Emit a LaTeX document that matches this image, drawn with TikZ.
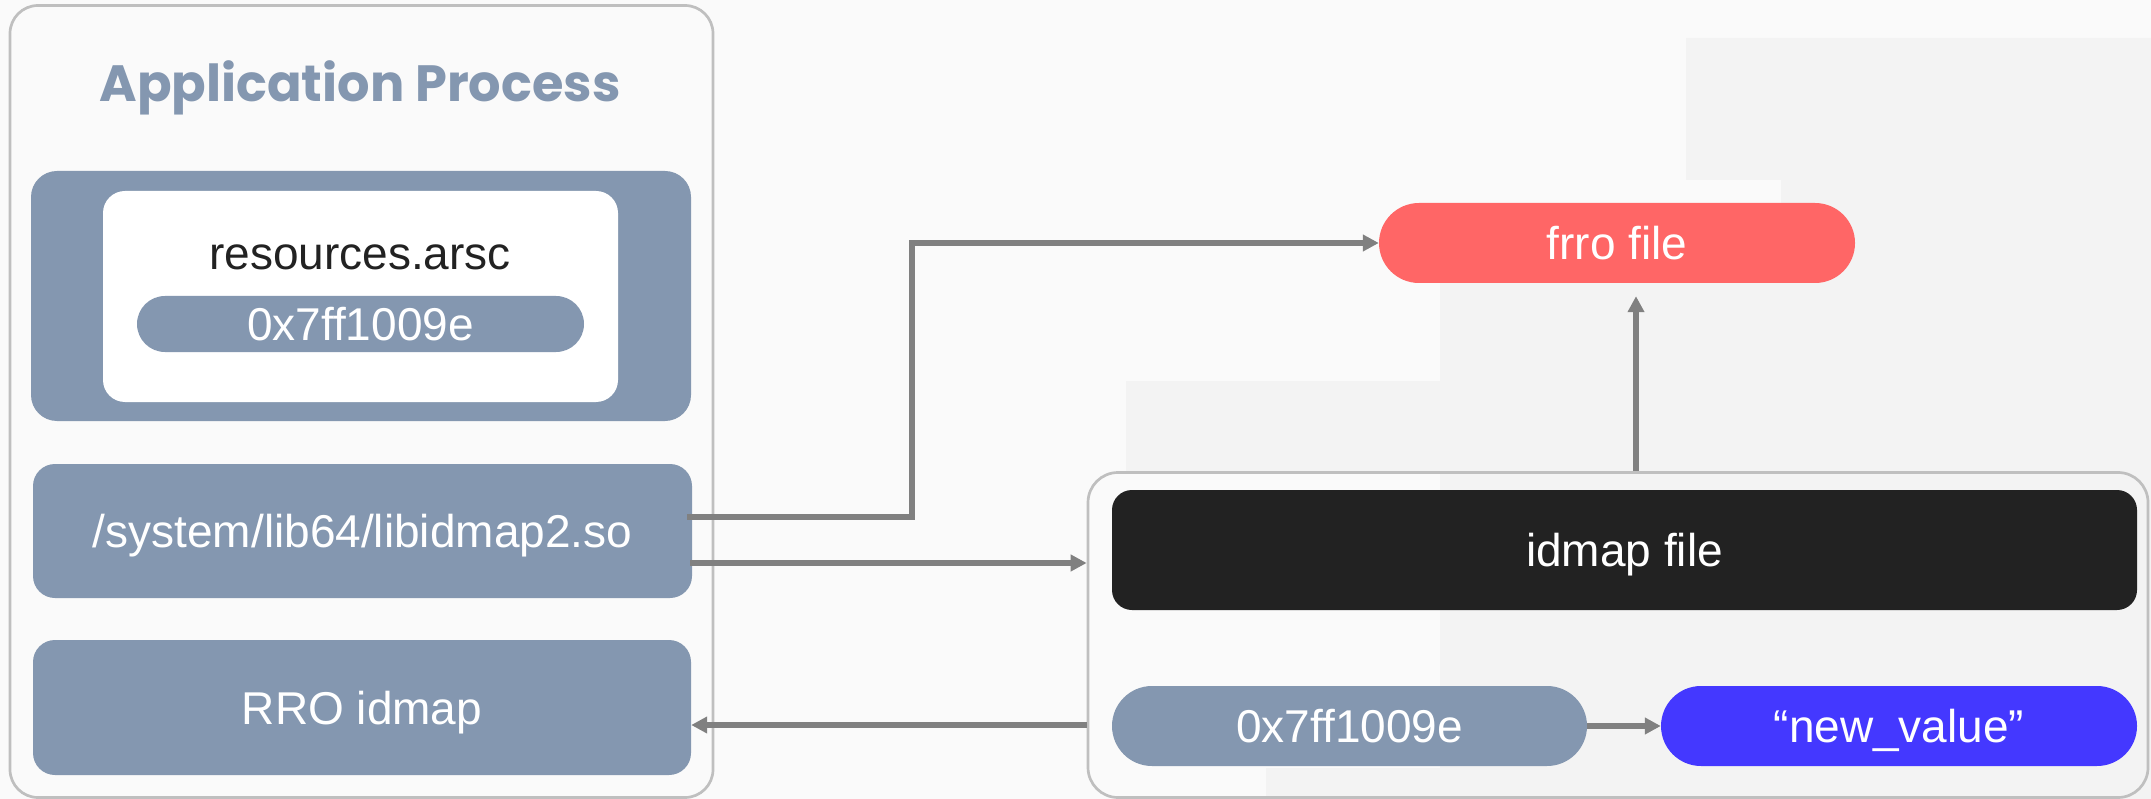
\documentclass[tikz,border=0pt]{standalone}
\usepackage{fontspec}
\setmainfont{Liberation Sans}
\newfontfamily\titlefont{Poppins}
\usetikzlibrary{arrows.meta,calc}
\definecolor{bgc}{HTML}{FAFAFA}
\definecolor{bgg}{HTML}{F3F3F3}
\definecolor{slate}{HTML}{8497B0}
\definecolor{bord}{HTML}{BFBFBF}
\definecolor{arrc}{HTML}{808080}
\definecolor{redc}{HTML}{FF6666}
\definecolor{bluec}{HTML}{4438FF}
\definecolor{darkc}{HTML}{222222}
\tikzset{
  frame/.style={draw=bord, line width=2.7pt, rounded corners=28pt, inner sep=0pt},
  blk/.style={rounded corners=22pt, inner sep=0pt, text=white,
    font=\fontsize{46}{50}\selectfont, text height=33pt, text depth=0pt},
  pill/.style={blk, rounded corners=40pt},
  arr/.style={draw=arrc, line width=5.5pt, -{Triangle[length=16pt,width=16pt]}},
}
\begin{document}
\begin{tikzpicture}[x=1pt,y=-1pt]
\useasboundingbox (0,0) rectangle (2151,799);
\fill[bgc] (0,0) rectangle (2151,799);
\fill[bgg] (1686,38) -- (2151,38) -- (2151,799) -- (1266,799) -- (1266,768) -- (1440,768)
  -- (1440,473) -- (1126,473) -- (1126,381) -- (1440,381) -- (1440,250) -- (1781,250)
  -- (1781,180) -- (1686,180) -- cycle;
% left
\node[frame, minimum width=703pt, minimum height=792pt] (outerL) at (361.5,401.5) {};
\node[anchor=base, text=slate, font=\titlefont\bfseries\fontsize{51}{55}\selectfont] (title) at (360,102) {Application Process};
\node[blk, fill=slate, rounded corners=26pt, minimum width=660pt, minimum height=250pt] (resbox) at (361,296) {};
\node[blk, fill=white, minimum width=515pt, minimum height=211pt] (white) at (360.5,296.5) {};
\node[anchor=base, text=darkc, font=\fontsize{46}{50}\selectfont] (restext) at (360,270) {resources.arsc};
\node[pill, fill=slate, rounded corners=28pt, minimum width=447pt, minimum height=56pt] (pillL) at (360.5,324) {0x7ff1009e};
\node[blk, fill=slate, minimum width=659pt, minimum height=134pt] (libbox) at (362.5,531) {/system/lib64/libidmap2.so};
\node[blk, fill=slate, minimum width=658pt, minimum height=135pt] (rrobox) at (362,707.5) {RRO idmap};
% right
\node[pill, fill=redc, minimum width=476pt, minimum height=80pt] (frro) at (1617,243) {frro file};
\node[frame, rounded corners=30pt, minimum width=1060pt, minimum height=325pt] (outerR) at (1618,635) {};
\node[blk, fill=darkc, rounded corners=20pt, minimum width=1025pt, minimum height=120pt] (idmap) at (1624.5,550) {idmap file};
\node[pill, fill=slate, minimum width=475pt, minimum height=80pt] (pillR1) at (1349.5,726) {0x7ff1009e};
\node[pill, fill=bluec, minimum width=476pt, minimum height=80pt] (pillR2) at (1899,726) {“new\_value”};
% connectors
\coordinate (a1) at ($(libbox.east)+(-5,-14)$);
\coordinate (k1) at (912,243);
\draw[arr] (a1) -| (k1) -- (frro.west);
\coordinate (a2) at ($(libbox.east)+(-2,32)$);
\draw[arr] (a2) -- (a2 -| outerR.west);
\coordinate (a3) at ($(outerR.north)+(18,0)$);
\coordinate (a3e) at ($(frro.south)+(19,13)$);
\draw[arr] (a3) -- (a3e);
\coordinate (a4) at ($(outerR.west)+(0,90)$);
\draw[arr] (a4) -- (a4 -| rrobox.east);
\draw[arr] (pillR1.east) -- (pillR2.west);
\end{tikzpicture}
\end{document}
